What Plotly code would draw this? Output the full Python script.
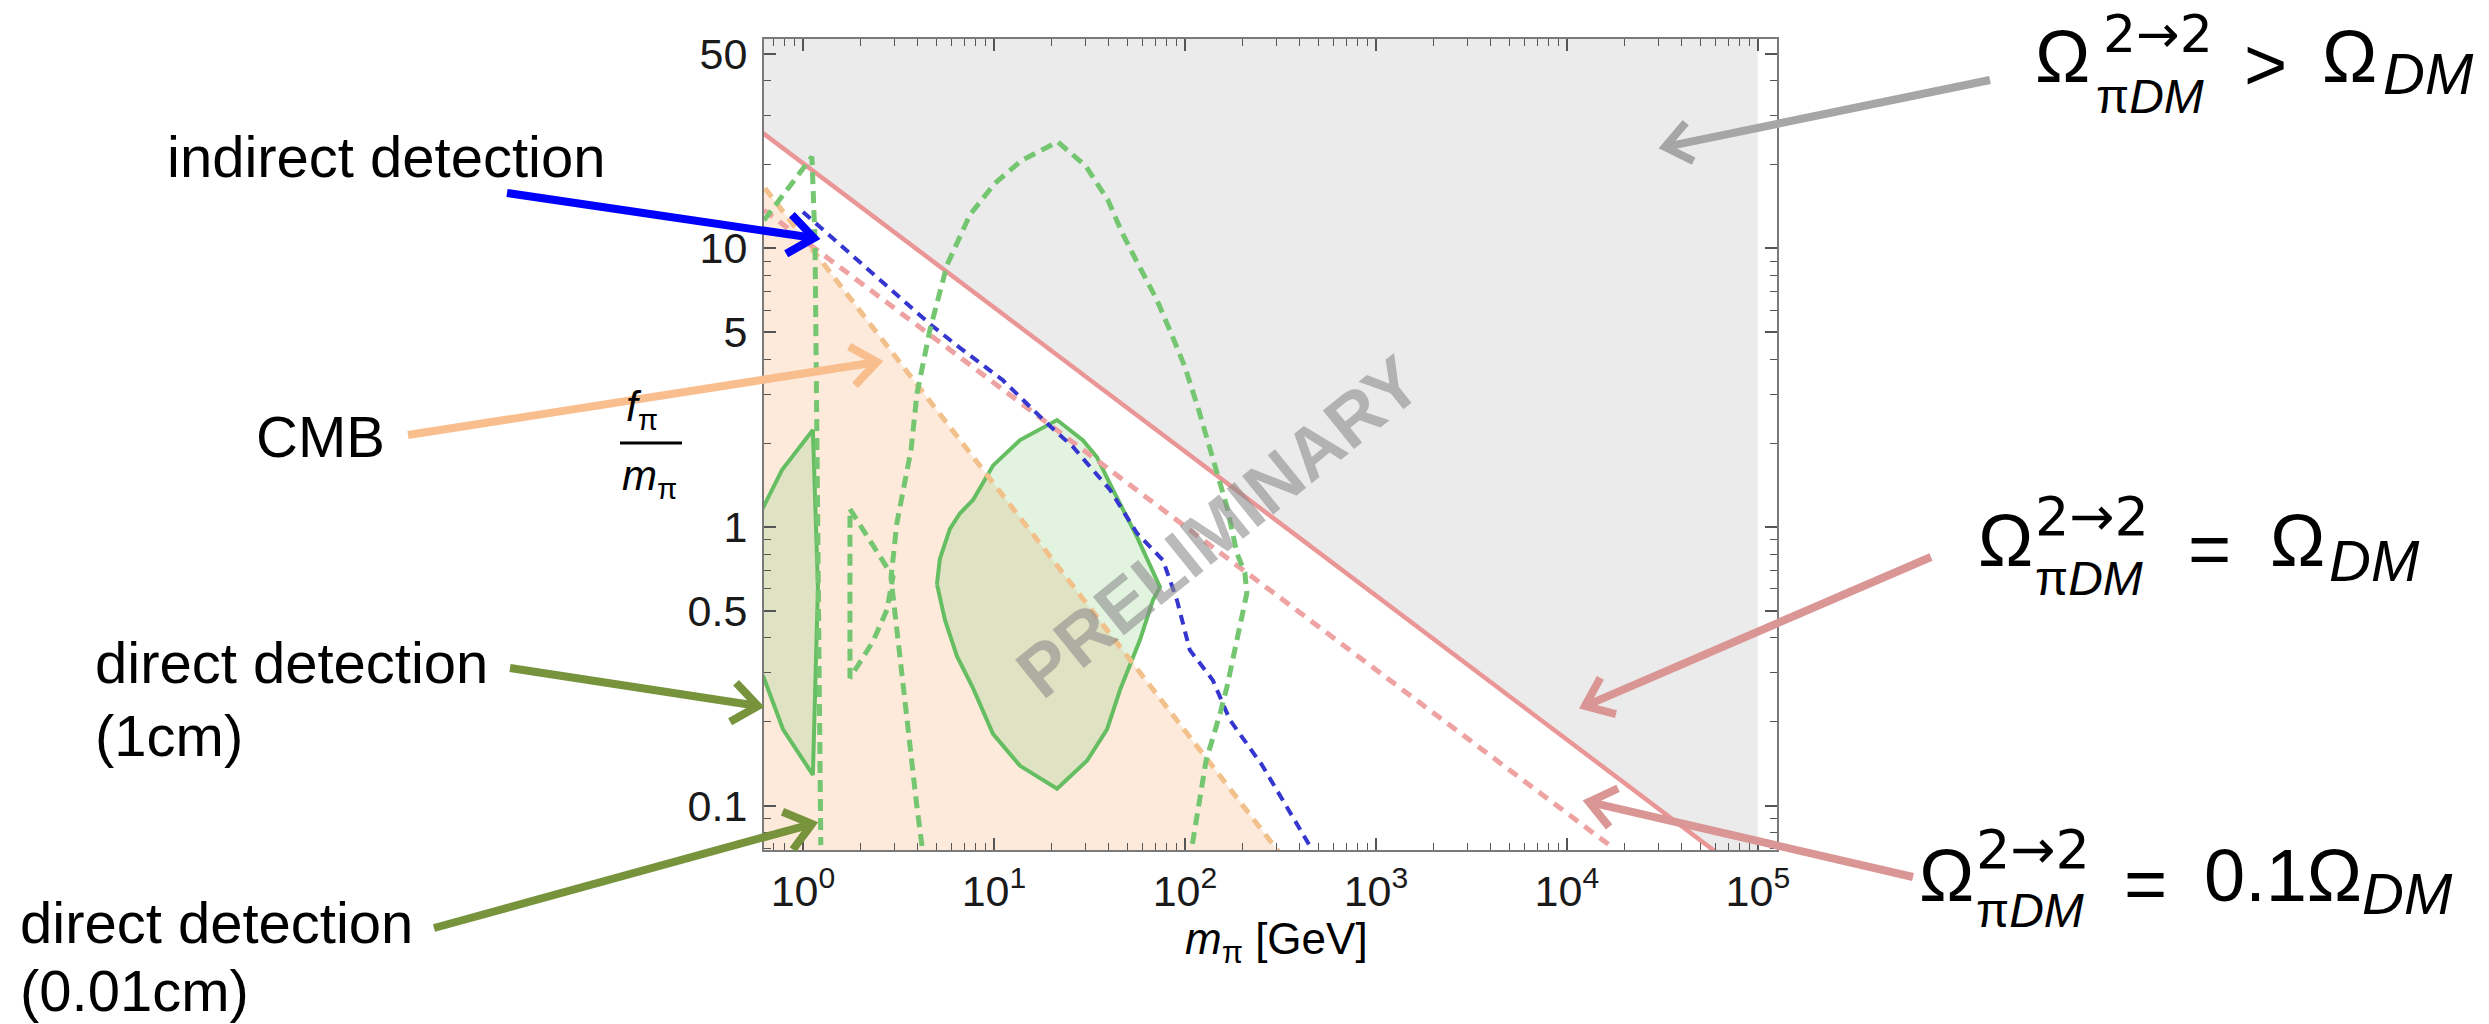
import math
import plotly.graph_objects as go

# ---------------- data ----------------
# Omega(2->2) = Omega_DM  (solid pink; grey excluded region above it)
relic_m = [0.55, 1.0e5]
relic_f = [27.5, 0.0525]
grey_m_max = 1.0e5
# Omega(2->2) = 0.1 Omega_DM  (dashed pink)
relic01_m = [0.625, 16800]
relic01_f = [13.7, 0.072]
# CMB bound (dashed orange, peach region below)
cmb_m = [0.55, 320]
cmb_f = [18.6, 0.0664]
# indirect detection (dashed blue)
ind_m = [1.0, 4.62, 6.64, 11.1, 18.9, 25.9, 40.5, 56.1, 76.7, 90.8, 106, 140, 172, 253, 451]
ind_f = [13.5, 5.35, 4.39, 3.37, 2.36, 1.94, 1.36, 0.95, 0.76, 0.547, 0.362, 0.282, 0.203, 0.140, 0.0717]
# direct detection, 1 cm (solid green closed contours)
dd1a_m = [0.5, 0.625, 0.776, 1.127, 1.198, 1.127, 0.786, 0.625, 0.5, 0.5]
dd1a_f = [0.9, 1.19, 1.60, 2.23, 0.609, 0.129, 0.188, 0.287, 0.38, 0.9]
dd1b_m = [5.03, 5.21, 5.88, 6.64, 7.77, 9.88, 13.7, 21.4, 29.2, 34.6, 42.0, 56.1, 74.0,
          68.0, 58.1, 45.7, 39.1, 30.7, 21.4, 13.7, 9.88, 7.77, 6.40, 5.54, 5.03]
dd1b_f = [0.624, 0.768, 0.984, 1.12, 1.25, 1.66, 2.05, 2.42, 2.05, 1.78, 1.36, 0.921, 0.609,
          0.547, 0.393, 0.260, 0.188, 0.145, 0.115, 0.139, 0.181, 0.264, 0.344, 0.464, 0.624]
# direct detection, 0.01 cm (dashed green contours)
dd2a_m = [0.625, 1.114, 1.156, 1.18, 1.21, 1.24]
dd2a_f = [12.6, 21.3, 10.7, 2.86, 0.547, 0.0722]
dd2b_m = [1.762, 2.96, 2.75, 2.32, 1.762, 1.762]
dd2b_f = [1.16, 0.662, 0.504, 0.387, 0.287, 1.16]
dd2c_m = [4.20, 3.91, 3.51, 3.18, 2.89, 3.10, 3.68, 3.95, 4.62, 5.68, 7.49, 10.1, 14.0, 21.6,
          30.3, 39.5, 46.8, 55.4, 71.3, 84.5, 100, 118, 147, 166, 187, 206, 211, 194, 178,
          166, 153, 129, 109]
dd2c_f = [0.0717, 0.105, 0.203, 0.362, 0.656, 1.03, 1.89, 3.00, 5.09, 8.71, 13.2, 17.1, 20.7,
          24.1, 19.7, 14.9, 11.4, 9.08, 6.53, 4.97, 3.75, 2.63, 1.56, 1.18, 0.807, 0.684,
          0.579, 0.438, 0.333, 0.267, 0.215, 0.145, 0.0717]

# axis ticks
x_tickvals = [1, 10, 100, 1e3, 1e4, 1e5]
x_ticktext = ["10<sup>0</sup>", "10<sup>1</sup>", "10<sup>2</sup>", "10<sup>3</sup>",
              "10<sup>4</sup>", "10<sup>5</sup>"]
y_tickvals = [0.1, 0.5, 1, 5, 10, 50]
y_ticktext = ["0.1", "0.5", "1", "5", "10", "50"]

X_RANGE = [-0.204, 5.10]
Y_RANGE = [-1.159, 1.751]

# ---------------- layout helpers ----------------
W, H = 2489, 1024
L, R, T, B = 764, 1777, 39, 850


def P(px, py):
    return (px - L) / (R - L), (B - py) / (B - T)


LS = "Liberation Sans, Arial, sans-serif"
DV = "DejaVu Sans, sans-serif"

fig = go.Figure()

# grey region: Omega > Omega_DM
fig.add_trace(go.Scatter(
    x=relic_m + [grey_m_max, relic_m[0]], y=relic_f + [100, 100],
    fill="toself", fillcolor="#ebebeb", mode="lines", line=dict(width=0),
    hoverinfo="skip", showlegend=False))
# peach region: CMB
fig.add_trace(go.Scatter(
    x=cmb_m + [cmb_m[-1], cmb_m[0]], y=cmb_f + [0.01, 0.01],
    fill="toself", fillcolor="#fdeadb", mode="lines", line=dict(width=0),
    hoverinfo="skip", showlegend=False))

GREEN = "#66be62"
for mm, ff in [(dd1a_m, dd1a_f), (dd1b_m, dd1b_f)]:
    fig.add_trace(go.Scatter(
        x=mm, y=ff, fill="toself", fillcolor="rgba(110,200,100,0.2)", mode="lines",
        line=dict(color=GREEN, width=4), hoverinfo="skip", showlegend=False))

lines = [
    (relic_m, relic_f, "#eb9696", "solid", 4.5),
    (relic01_m, relic01_f, "#eea2a2", "11px,8px", 5),
    (cmb_m, cmb_f, "#f2c08a", "11px,8px", 5),
    (ind_m, ind_f, "#3535d0", "10px,7px", 4),
    (dd2a_m, dd2a_f, "#74c670", "12px,7px", 5),
    (dd2b_m, dd2b_f, "#74c670", "12px,7px", 5),
    (dd2c_m, dd2c_f, "#74c670", "12px,7px", 5),
]
for mm, ff, col, dash, w in lines:
    fig.add_trace(go.Scatter(x=mm, y=ff, mode="lines",
                             line=dict(color=col, dash=dash, width=w),
                             hoverinfo="skip", showlegend=False))

# minor ticks
x_minor = [k * 10 ** e for e in range(-1, 6) for k in range(2, 10)
           if X_RANGE[0] < math.log10(k * 10 ** e) < X_RANGE[1]]
y_minor = [k * 10.0 ** e for e in range(-2, 2) for k in range(1, 10)
           if Y_RANGE[0] < math.log10(k * 10.0 ** e) < Y_RANGE[1]
           and round(k * 10.0 ** e, 6) not in y_tickvals]

TICKFONT = dict(family=LS, size=43, color="#1a1a1a")
axis_common = dict(showline=True, linecolor="#7a7a7a", linewidth=2, mirror="allticks",
                   ticks="inside", ticklen=12, tickwidth=1.5, tickcolor="#555555",
                   showgrid=False, zeroline=False, tickfont=TICKFONT)

fig.update_xaxes(type="log", range=X_RANGE, tickvals=x_tickvals, ticktext=x_ticktext,
                 ticklabelstandoff=2,
                 minor=dict(tickvals=x_minor, ticks="inside", ticklen=7, tickcolor="#555555",
                            tickwidth=1.2),
                 **axis_common)
fig.update_yaxes(type="log", range=Y_RANGE, tickvals=y_tickvals, ticktext=y_ticktext,
                 ticklabelstandoff=6,
                 minor=dict(tickvals=y_minor, ticks="inside", ticklen=7, tickcolor="#555555",
                            tickwidth=1.2),
                 **axis_common)

annotations = []


def text(t, px, py, size, anchor="left", family=LS, color="black", **kw):
    x, y = P(px, py)
    annotations.append(dict(text=t, x=x, y=y, xref="paper", yref="paper", showarrow=False,
                            xanchor=anchor, yanchor="middle",
                            font=dict(family=family, size=size, color=color), **kw))


# left-hand labels
text("indirect detection", 165, 157, 58)
text("CMB", 254, 436, 58)
text("direct detection", 93, 662, 58)
text("(1cm)", 93, 735, 58)
text("direct detection", 18, 923, 58)
text("(0.01cm)", 18, 990, 58)

# axis titles
text("<i>m</i><sub>π</sub> [GeV]", 1183, 942, 44)
text("<i>f</i><sub>π</sub>", 624, 410, 42)
text("<i>m</i><sub>π</sub>", 620, 478, 42)

# right-hand math labels
for parts in [
    [("Ω", 2033, 57, 74, LS), ("2→2", 2101, 34, 52, DV), ("π<i>DM</i>", 2094, 97, 48, LS),
     ("&gt;", 2242, 64, 74, LS), ("Ω", 2320, 57, 74, LS), ("<i>DM</i>", 2381, 73, 58, LS)],
    [("Ω", 1976, 540, 74, LS), ("2→2", 2033, 516, 54, DV), ("π<i>DM</i>", 2033, 578, 48, LS),
     ("=", 2186, 548, 74, LS), ("Ω", 2268, 540, 74, LS), ("<i>DM</i>", 2327, 560, 58, LS)],
    [("Ω", 1917, 875, 74, LS), ("2→2", 1974, 849, 54, DV), ("π<i>DM</i>", 1974, 910, 48, LS),
     ("=", 2122, 883, 74, LS), ("0.1Ω", 2202, 875, 74, LS), ("<i>DM</i>", 2360, 893, 58, LS)],
]:
    for t, px, py, s, fam in parts:
        text(t, px, py, s, family=fam)

# watermark
text("<b>PRELIMINARY</b>", 1218, 527, 72, anchor="center",
     color="rgba(140,140,140,0.6)", textangle=-39)

# arrows (shaft + open chevron head)
shapes = []


def arrow(tail, tip, color, width=8, head=32, ang=38):
    (x0, y0), (x1, y1) = tail, tip
    dx, dy = x1 - x0, y1 - y0
    n = math.hypot(dx, dy)
    ux, uy = dx / n, dy / n
    sx, sy = x1 - 3 * ux, y1 - 3 * uy
    a0, b0 = P(x0, y0)
    a1, b1 = P(sx, sy)
    shapes.append(dict(type="line", xref="paper", yref="paper", x0=a0, y0=b0, x1=a1, y1=b1,
                       line=dict(color=color, width=width), layer="above"))
    pts = []
    for s in (1, -1):
        a = math.radians(ang * s)
        vx, vy = -ux, -uy
        rx = vx * math.cos(a) - vy * math.sin(a)
        ry = vx * math.sin(a) + vy * math.cos(a)
        pts.append(P(x1 + head * rx, y1 + head * ry))
    tx, ty = P(x1, y1)
    path = "M {},{} L {},{} L {},{}".format(pts[0][0], pts[0][1], tx, ty, pts[1][0], pts[1][1])
    shapes.append(dict(type="path", xref="paper", yref="paper", path=path,
                       line=dict(color=color, width=width), layer="above"))


arrow((507, 193), (814, 238), "#0000ff")
arrow((408, 435), (877, 362), "#f9be8e")
arrow((510, 668), (758, 706), "#77933c")
arrow((434, 928), (812, 824), "#77933c")
arrow((1990, 80), (1665, 147), "#a6a6a6")
arrow((1931, 557), (1585, 706), "#d99694")
arrow((1913, 877), (1589, 802), "#d99694")

# fraction bar of y title
a0, b0 = P(620, 443)
a1, b1 = P(682, 443)
shapes.append(dict(type="line", xref="paper", yref="paper", x0=a0, y0=b0, x1=a1, y1=b1,
                   line=dict(color="black", width=3)))

fig.update_layout(width=W, height=H, margin=dict(l=L, r=W - R, t=T, b=H - B),
                  plot_bgcolor="white", paper_bgcolor="white", showlegend=False,
                  annotations=annotations, shapes=shapes)

fig.write_html("out.html")
